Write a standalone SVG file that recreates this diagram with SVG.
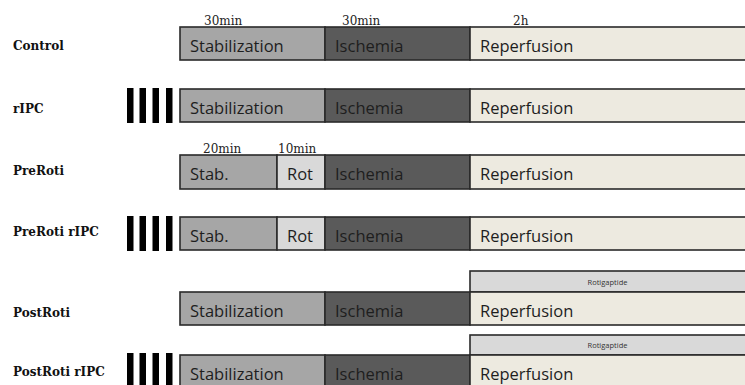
<svg xmlns="http://www.w3.org/2000/svg" width="745" height="385" viewBox="0 0 745 385">
<style>
.lab{font-family:"DejaVu Serif","Liberation Serif",serif;font-weight:bold;font-size:12px;fill:#111}
.tm{font-family:"DejaVu Serif","Liberation Serif",serif;font-size:12px;fill:#222}
.bt{font-family:"Open Sans","Liberation Sans",sans-serif;font-size:16.5px;fill:#1e1e1e}
.sm{font-family:"Open Sans","Liberation Sans",sans-serif;font-size:7.5px;fill:#333}
rect{stroke:#2a2a2a;stroke-width:1.6}
.stab{fill:#a6a6a6}
.isch{fill:#5a5a5a}
.rep{fill:#edeae0}
.rot{fill:#d9d9d9}
.bar{fill:#000;stroke:none}
</style>
<g id="control">
<text class="lab" x="13" y="50">Control</text>
<text class="tm" x="204" y="25">30min</text>
<text class="tm" x="342" y="25">30min</text>
<text class="tm" x="513" y="25">2h</text>
<rect class="stab" x="180" y="27" width="145" height="33"/>
<rect class="isch" x="325" y="27" width="145" height="33"/>
<rect class="rep" x="470" y="27" width="285" height="33"/>
<text class="bt" x="190" y="52">Stabilization</text>
<text class="bt" x="335" y="52">Ischemia</text>
<text class="bt" x="480" y="52">Reperfusion</text>
</g>
<g id="ripc">
<text class="lab" x="13" y="113">rIPC</text>
<rect class="bar" x="127" y="88" width="6.5" height="35"/>
<rect class="bar" x="139.5" y="88" width="6.5" height="35"/>
<rect class="bar" x="152.5" y="88" width="6.5" height="35"/>
<rect class="bar" x="166" y="88" width="6.5" height="35"/>
<rect class="stab" x="180" y="89" width="145" height="33"/>
<rect class="isch" x="325" y="89" width="145" height="33"/>
<rect class="rep" x="470" y="89" width="285" height="33"/>
<text class="bt" x="190" y="114">Stabilization</text>
<text class="bt" x="335" y="114">Ischemia</text>
<text class="bt" x="480" y="114">Reperfusion</text>
</g>
<g id="preroti">
<text class="lab" x="13" y="175">PreRoti</text>
<text class="tm" x="203" y="153">20min</text>
<text class="tm" x="278" y="153">10min</text>
<rect class="stab" x="180" y="155" width="97" height="34"/>
<rect class="rot" x="277" y="155" width="48" height="34"/>
<rect class="isch" x="325" y="155" width="145" height="34"/>
<rect class="rep" x="470" y="155" width="285" height="34"/>
<text class="bt" x="190" y="180">Stab.</text>
<text class="bt" x="287" y="180">Rot</text>
<text class="bt" x="335" y="180">Ischemia</text>
<text class="bt" x="480" y="180">Reperfusion</text>
</g>
<g id="preroti-ripc">
<text class="lab" x="13" y="236">PreRoti rIPC</text>
<rect class="bar" x="127" y="216" width="6.5" height="35"/>
<rect class="bar" x="139.5" y="216" width="6.5" height="35"/>
<rect class="bar" x="152.5" y="216" width="6.5" height="35"/>
<rect class="bar" x="166" y="216" width="6.5" height="35"/>
<rect class="stab" x="180" y="217" width="97" height="33"/>
<rect class="rot" x="277" y="217" width="48" height="33"/>
<rect class="isch" x="325" y="217" width="145" height="33"/>
<rect class="rep" x="470" y="217" width="285" height="33"/>
<text class="bt" x="190" y="242">Stab.</text>
<text class="bt" x="287" y="242">Rot</text>
<text class="bt" x="335" y="242">Ischemia</text>
<text class="bt" x="480" y="242">Reperfusion</text>
</g>
<g id="postroti">
<text class="lab" x="13" y="317">PostRoti</text>
<rect class="rot" x="470" y="271" width="285" height="21"/>
<text class="sm" x="607.5" y="285" text-anchor="middle">Rotigaptide</text>
<rect class="stab" x="180" y="292" width="145" height="33"/>
<rect class="isch" x="325" y="292" width="145" height="33"/>
<rect class="rep" x="470" y="292" width="285" height="33"/>
<text class="bt" x="190" y="317">Stabilization</text>
<text class="bt" x="335" y="317">Ischemia</text>
<text class="bt" x="480" y="317">Reperfusion</text>
</g>
<g id="postroti-ripc">
<text class="lab" x="13" y="376">PostRoti rIPC</text>
<rect class="bar" x="127" y="353" width="6.5" height="40"/>
<rect class="bar" x="139.5" y="353" width="6.5" height="40"/>
<rect class="bar" x="152.5" y="353" width="6.5" height="40"/>
<rect class="bar" x="166" y="353" width="6.5" height="40"/>
<rect class="rot" x="470" y="335" width="285" height="20"/>
<text class="sm" x="607.5" y="348" text-anchor="middle">Rotigaptide</text>
<rect class="stab" x="180" y="355" width="145" height="40"/>
<rect class="isch" x="325" y="355" width="145" height="40"/>
<rect class="rep" x="470" y="355" width="285" height="40"/>
<text class="bt" x="190" y="380">Stabilization</text>
<text class="bt" x="335" y="380">Ischemia</text>
<text class="bt" x="480" y="380">Reperfusion</text>
</g>
</svg>
